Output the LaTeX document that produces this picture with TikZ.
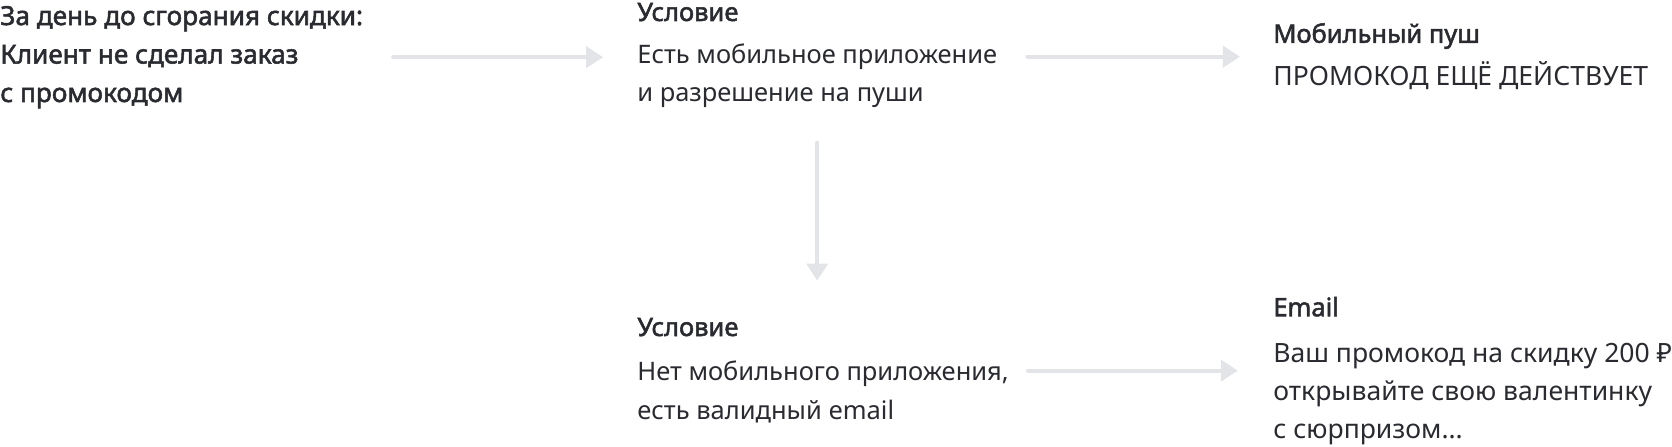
\documentclass[tikz,border=0pt]{standalone}
\usepackage{fontspec}
\setmainfont{Noto Sans}[AutoFakeBold=2]
\usetikzlibrary{arrows.meta, positioning}

\definecolor{ink}{HTML}{2A2B30}
\definecolor{arrowgray}{HTML}{E2E4E8}

\newcommand{\headfont}{\fontsize{14.5}{20}\selectfont\bfseries}

\begin{document}
\begin{tikzpicture}[x=0.02cm, y=-0.02cm,
    txt/.style={inner sep=0pt, anchor=base west, align=left, text=ink},
    body/.style={txt, font=\fontsize{14.5}{22}\selectfont},
    wide/.style={txt, font=\fontsize{15.1}{21.6}\selectfont},
    head/.style={txt, font=\headfont},
    flow/.style={draw=arrowgray, line width=2.3pt, line cap=round,
        -{Triangle[width=12pt, length=9.7pt]}}]
    % Canvas
    \useasboundingbox (0,0) rectangle (1672,446);

    % Trigger (base = last line)
    \node[txt, font=\fontsize{14.9}{21.9}\selectfont\bfseries] (start) at (0,102)
        {За день до сгорания скидки:\\Клиент не сделал заказ\\с промокодом};

    % Condition: app and push permission
    \node[head] (c1head) at (637,21) {Условие};
    \node[body] (c1text) at (637,102) {Есть мобильное приложение\\и разрешение на пуши};

    % Condition: no app, valid email
    \node[head] (c2head) at (637,336) {Условие};
    \node[body] (c2text) at (637,419) {Нет мобильного приложения,\\есть валидный email};

    % Channels
    \node[wide] (push) at (1273,86)
        {{\headfont Мобильный пуш}\\[3pt]ПРОМОКОД ЕЩЁ ДЕЙСТВУЕТ};
    \node[wide] (email) at (1273,438)
        {{\headfont Email}\\[4.5pt]Ваш промокод на скидку 200 ₽\\открывайте свою валентинку\\с сюрпризом...};

    % Arrows
    \draw[flow, shorten <=17pt, shorten >=19.3pt] (start.east) -- (start.east -| c1text.west);
    \draw[flow, shorten <=17pt, shorten >=18.8pt] (push.west -| c1text.east) -- (push.west);
    \draw[flow, shorten <=19.4pt, shorten >=21pt] (c1text.south) -- (c1text.south |- c2head.north);
    \draw[flow, shorten <=10.7pt, shorten >=20pt] (email.west -| c2text.east) -- (email.west);
\end{tikzpicture}
\end{document}
